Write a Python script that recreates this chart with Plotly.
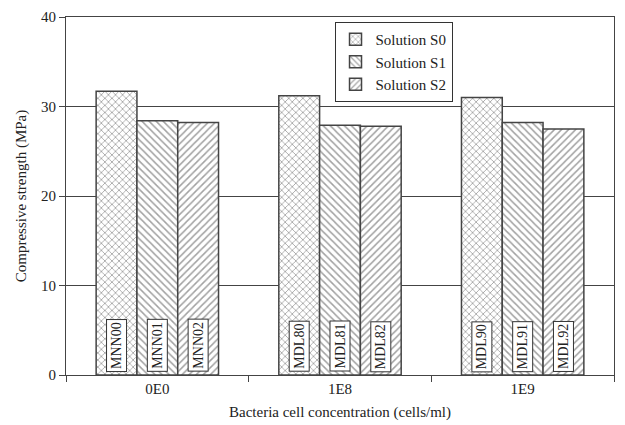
import plotly.graph_objects as go

categories = ["0E0", "1E8", "1E9"]
series_names = ["Solution S0", "Solution S1", "Solution S2"]
s0 = [31.7, 31.2, 31.0]
s1 = [28.4, 27.9, 28.2]
s2 = [28.2, 27.8, 27.5]
labels = [["MNN00", "MDL80", "MDL90"],
          ["MNN01", "MDL81", "MDL91"],
          ["MNN02", "MDL82", "MDL92"]]
patterns = ["x", "\\", "/"]

FONT = "Liberation Serif, Times New Roman, serif"
bargap = 0.33

fig = go.Figure()
for name, vals, pat in zip(series_names, [s0, s1, s2], patterns):
    fig.add_trace(go.Bar(
        x=categories, y=vals, name=name,
        marker=dict(color="white", line=dict(color="#444", width=1.5),
                    pattern=dict(shape=pat, fgcolor="#444", bgcolor="white",
                                 size=5, solidity=0.3)),
    ))

bw = (1 - bargap) / 3
for si in range(3):
    for ci in range(3):
        fig.add_annotation(
            x=ci + (si - 1) * bw, y=0, xref="x", yref="y",
            text=labels[si][ci], textangle=-90, showarrow=False,
            yanchor="bottom", yshift=3,
            font=dict(family=FONT, size=14, color="#222"),
            bgcolor="white", bordercolor="#333", borderwidth=1, borderpad=2,
        )

fig.update_layout(
    width=625, height=425,
    margin=dict(l=58, r=19, t=9, b=58),
    barmode="group", bargap=bargap, bargroupgap=0,
    paper_bgcolor="white", plot_bgcolor="white",
    font=dict(family=FONT, size=15, color="#222"),
    showlegend=True,
    legend=dict(x=0.49, y=0.986, xanchor="left", yanchor="top",
                bgcolor="white", bordercolor="#333", borderwidth=1,
                font=dict(family=FONT, size=15, color="#222"),
                itemwidth=30, tracegroupgap=0),
    xaxis=dict(type="category", showline=True, linecolor="#444", linewidth=1,
               mirror=True, ticks="outside", tickson="boundaries", ticklen=6,
               tickcolor="#444", tickfont=dict(size=15), automargin=False,
               title=dict(text="Bacteria cell concentration (cells/ml)",
                          font=dict(family=FONT, size=15), standoff=10)),
    yaxis=dict(range=[0, 40], dtick=10, showline=True, linecolor="#444",
               linewidth=1, mirror=True, ticks="outside", ticklen=6,
               tickcolor="#444", showgrid=True, gridcolor="#444", gridwidth=1,
               zeroline=False, tickfont=dict(size=15), automargin=False,
               title=dict(text="Compressive strength (MPa)",
                          font=dict(family=FONT, size=15), standoff=10)),
)

fig.write_html("out.html")
